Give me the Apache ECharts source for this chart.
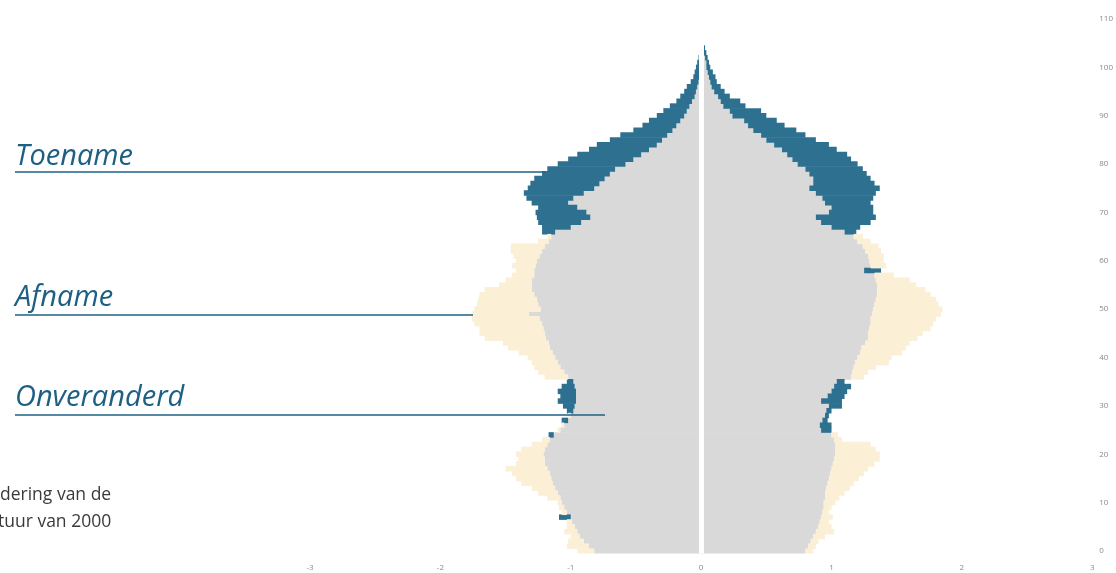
<!DOCTYPE html>
<html><head><meta charset="utf-8">
<script src="https://cdn.jsdelivr.net/npm/echarts@6/dist/echarts.min.js"></script>
<style>html,body{margin:0;padding:0;background:#fff}#c{width:1116px;height:573px}</style>
</head><body><div id="c"></div>
<script>
// Age categories (0..110)
const ages = ['0','1','2','3','4','5','6','7','8','9','10','11','12','13','14','15','16','17','18','19',
'20','21','22','23','24','25','26','27','28','29','30','31','32','33','34','35','36','37','38','39',
'40','41','42','43','44','45','46','47','48','49','50','51','52','53','54','55','56','57','58','59',
'60','61','62','63','64','65','66','67','68','69','70','71','72','73','74','75','76','77','78','79',
'80','81','82','83','84','85','86','87','88','89','90','91','92','93','94','95','96','97','98','99',
'100','101','102','103','104','105','106','107','108','109','110'];
const xTicks = [-3,-2,-1,0,1,2,3];

// Men (left side), % of population, ages 0..105
const maleUnchanged = [0.82,0.86,0.90,0.93,0.95,0.97,0.99,1.00,1.03,1.05,
1.07,1.08,1.10,1.12,1.14,1.15,1.16,1.18,1.20,1.20,
1.21,1.20,1.18,1.16,1.13,1.08,1.05,1.02,1.00,0.98,
0.97,0.96,0.96,0.96,0.97,0.98,1.02,1.05,1.08,1.10,
1.12,1.14,1.16,1.17,1.19,1.20,1.21,1.22,1.24,1.32,
1.23,1.25,1.26,1.28,1.30,1.30,1.30,1.28,1.28,1.27,
1.26,1.24,1.22,1.20,1.17,1.15,1.12,1.00,0.92,0.85,
0.88,0.95,1.02,0.98,0.90,0.82,0.78,0.74,0.70,0.66,
0.58,0.52,0.46,0.40,0.34,0.30,0.26,0.22,0.19,0.16,
0.13,0.11,0.09,0.07,0.05,0.04,0.03,0.02,0.01,0.01,
0,0,0,0,0,0];
const maleIncrease = [0,0,0,0,0,0,0,0.09,0,0,
0,0,0,0,0,0,0,0,0,0,
0,0,0,0,0.04,0,0,0.05,0,0.05,
0.09,0.14,0.12,0.14,0.10,0.05,0,0,0,0,
0,0,0,0,0,0,0,0,0,0,
0,0,0,0,0,0,0,0,0,0,
0,0,0,0,0,0,0.10,0.22,0.33,0.41,
0.39,0.30,0.28,0.36,0.46,0.51,0.53,0.54,0.52,0.52,
0.52,0.50,0.49,0.46,0.46,0.40,0.36,0.30,0.26,0.24,
0.21,0.18,0.15,0.12,0.11,0.09,0.08,0.06,0.05,0.04,
0.04,0.03,0.02,0.01,0,0];
const maleDecrease = [0.13,0.17,0.12,0.07,0.10,0.06,0.04,0,0.04,0.04,
0.03,0.10,0.15,0.18,0.24,0.27,0.29,0.32,0.22,0.20,
0.21,0.18,0.12,0.06,0,0.02,0.02,0,0.02,0,
0,0,0,0,0,0,0.18,0.20,0.20,0.20,
0.21,0.26,0.32,0.35,0.47,0.50,0.49,0.52,0.52,0.44,
0.51,0.47,0.45,0.42,0.36,0.25,0.20,0.17,0.14,0.18,
0.16,0.20,0.24,0.26,0.08,0.03,0,0,0,0,
0,0,0,0,0,0,0,0,0,0,
0,0,0,0,0,0,0,0,0,0,
0,0,0,0,0,0,0,0,0,0,
0,0,0,0,0,0];

// Women (right side)
const femaleUnchanged = [0.80,0.82,0.84,0.86,0.88,0.90,0.91,0.92,0.93,0.94,
0.94,0.95,0.95,0.96,0.97,0.98,0.99,1.00,1.01,1.02,
1.03,1.03,1.03,1.02,1.00,0.92,0.91,0.93,0.95,0.96,
0.98,0.92,0.97,1.00,1.02,1.04,1.15,1.16,1.17,1.18,
1.20,1.22,1.23,1.26,1.28,1.28,1.29,1.30,1.30,1.31,
1.32,1.33,1.34,1.35,1.35,1.35,1.34,1.33,1.25,1.30,
1.29,1.28,1.26,1.24,1.20,1.17,1.10,1.00,0.92,0.88,
0.98,1.00,0.95,0.93,0.88,0.83,0.86,0.86,0.83,0.80,
0.74,0.70,0.66,0.62,0.56,0.50,0.46,0.40,0.36,0.33,
0.24,0.22,0.17,0.15,0.13,0.10,0.08,0.07,0.06,0.05,
0.04,0.04,0.03,0.02,0.02,0.01];
const femaleIncrease = [0,0,0,0,0,0,0,0,0,0,
0,0,0,0,0,0,0,0,0,0,
0,0,0,0,0,0.08,0.09,0.04,0.03,0.04,
0.10,0.16,0.13,0.12,0.13,0.06,0,0,0,0,
0,0,0,0,0,0,0,0,0,0,
0,0,0,0,0,0,0,0,0.13,0,
0,0,0,0,0,0,0.09,0.22,0.38,0.46,
0.34,0.32,0.35,0.39,0.46,0.54,0.47,0.44,0.44,0.44,
0.46,0.45,0.46,0.42,0.42,0.38,0.34,0.33,0.28,0.25,
0.26,0.24,0.17,0.15,0.09,0.08,0.07,0.05,0.05,0.04,
0.03,0.02,0.02,0.02,0.01,0.01];
const femaleDecrease = [0.06,0.06,0.06,0.09,0.14,0.10,0.07,0.09,0.05,0.06,
0.09,0.11,0.15,0.18,0.20,0.23,0.26,0.28,0.32,0.35,
0.34,0.31,0.27,0.06,0.05,0,0,0,0,0,
0,0,0,0,0,0,0.10,0.12,0.17,0.26,
0.26,0.32,0.34,0.34,0.38,0.42,0.47,0.48,0.50,0.53,
0.53,0.49,0.46,0.41,0.37,0.30,0.26,0.15,0,0.12,
0.11,0.12,0.12,0.12,0.10,0.07,0,0,0,0,
0,0,0,0,0,0,0,0,0,0,
0,0,0,0,0,0,0,0,0,0,
0,0,0,0,0,0,0,0,0,0,
0,0,0,0,0,0];

const labels = ['Toename','Afname','Onveranderd'];
const captionLines = ['dering van de','tuur van 2000'];

const GRAY = '#D9D9D9', BLUE = '#2E7090', CREAM = '#FBEFD6', INK = '#1E6084';
const neg = a => a.map(v => -v);

const chart = echarts.init(document.getElementById('c'), null, {renderer:'canvas'});
const barBase = {type:'bar', barWidth:5.5, barGap:'-100%', silent:true};
chart.setOption({
  animation:false,
  backgroundColor:'#fff',
  grid:{left:310, right:19, top:16.6, bottom:19.6, containLabel:false},
  xAxis:{type:'value', min:-3, max:3, interval:1,
    axisLine:{show:false}, axisTick:{show:false}, splitLine:{show:false},
    axisLabel:{color:'#8a8a8a', fontSize:8, margin:10, fontFamily:'Open Sans'}},
  yAxis:{type:'category', data:ages, position:'right',
    axisLine:{show:false}, axisTick:{show:false}, splitLine:{show:false},
    axisLabel:{interval:9, color:'#8a8a8a', fontSize:8, margin:7, fontFamily:'Open Sans', align:'left'}},
  series:[
    Object.assign({}, barBase, {name:'m0', stack:'m', data:neg(maleUnchanged), itemStyle:{color:GRAY}}),
    Object.assign({}, barBase, {name:'m1', stack:'m', data:neg(maleIncrease), itemStyle:{color:BLUE}}),
    Object.assign({}, barBase, {name:'m2', stack:'m', data:neg(maleDecrease), itemStyle:{color:CREAM}}),
    Object.assign({}, barBase, {name:'f0', stack:'f', data:femaleUnchanged, itemStyle:{color:GRAY}}),
    Object.assign({}, barBase, {name:'f1', stack:'f', data:femaleIncrease, itemStyle:{color:BLUE}}),
    Object.assign({}, barBase, {name:'f2', stack:'f', data:femaleDecrease, itemStyle:{color:CREAM},
      markLine:{silent:true, symbol:'none', z:10, label:{show:false}, emphasis:{disabled:true},
        lineStyle:{color:'#ffffff', width:5, type:'solid'}, data:[{xAxis:0}]}})
  ],
  graphic:[
    {type:'text', z:100, left:15, top:142, style:{text:labels[0], font:'italic 29px "Open Sans"', fill:INK}},
    {type:'line', z:100, shape:{x1:15,y1:172,x2:545,y2:172}, style:{stroke:INK, lineWidth:1.5}},
    {type:'text', z:100, left:15, top:283, style:{text:labels[1], font:'italic 29px "Open Sans"', fill:INK}},
    {type:'line', z:100, shape:{x1:15,y1:315,x2:473,y2:315}, style:{stroke:INK, lineWidth:1.5}},
    {type:'text', z:100, left:15, top:383, style:{text:labels[2], font:'italic 29px "Open Sans"', fill:INK}},
    {type:'line', z:100, shape:{x1:15,y1:415,x2:605,y2:415}, style:{stroke:INK, lineWidth:1.5}},
    {type:'text', z:100, left:0, top:486, style:{text:captionLines[0], font:'17.5px "Open Sans"', fill:'#3a3a3a'}},
    {type:'text', z:100, left:-2, top:513, style:{text:captionLines[1], font:'17.5px "Open Sans"', fill:'#3a3a3a'}}
  ]
});
</script></body></html>
